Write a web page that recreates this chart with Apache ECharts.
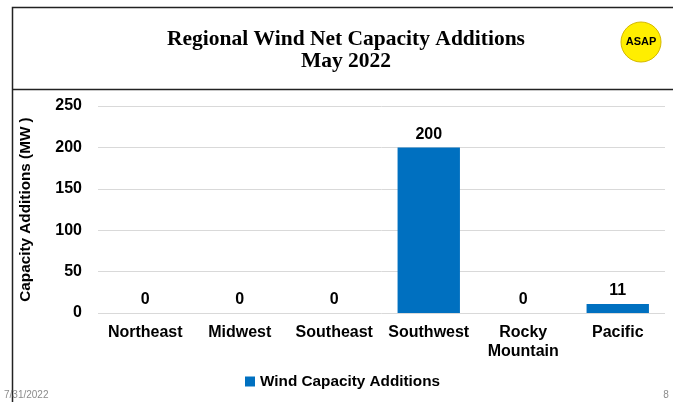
<!DOCTYPE html>
<html>
<head>
<meta charset="utf-8">
<script src="https://cdn.jsdelivr.net/npm/echarts@6/dist/echarts.min.js"></script>
<style>html,body{margin:0;padding:0;background:#fff}#c{width:673px;height:402px}</style>
</head>
<body>
<div id="c"></div>
<script>
const categories = ['Northeast', 'Midwest', 'Southeast', 'Southwest', 'Rocky\nMountain', 'Pacific'];
const windValues = [0, 0, 0, 200, 0, 11];
const yTicks = { min: 0, max: 250, interval: 50 };

const chart = echarts.init(document.getElementById('c'), null, { renderer: 'canvas' });
chart.setOption({
  animation: false,
  backgroundColor: '#fff',
  title: {
    text: 'Regional Wind Net Capacity Additions\nMay 2022',
    left: 341, top: 23, textAlign: 'center',
    textStyle: { fontFamily: 'Liberation Serif', fontWeight: 'bold', fontSize: 21.5, lineHeight: 22, color: '#000' }
  },
  legend: {
    data: ['Wind Capacity Additions'],
    left: 240, top: 369, itemWidth: 10, itemHeight: 10, itemGap: 4,
    icon: 'rect',
    textStyle: { fontFamily: 'Liberation Sans', fontWeight: 'bold', fontSize: 15.3, color: '#000', padding: [0,0,0,0] }
  },
  grid: { left: 98, right: 8, top: 106, bottom: 89, containLabel: false },
  xAxis: {
    type: 'category', data: categories,
    axisLine: { show: false }, axisTick: { show: false },
    axisLabel: { fontFamily: 'Liberation Sans', fontWeight: 'bold', fontSize: 16, color: '#000', margin: 10, lineHeight: 19, interval: 0 }
  },
  yAxis: {
    type: 'value', min: yTicks.min, max: yTicks.max, interval: yTicks.interval,
    name: 'Capacity Additions (MW )', nameLocation: 'middle', nameGap: 65, nameRotate: 90,
    nameTextStyle: { fontFamily: 'Liberation Sans', fontWeight: 'bold', fontSize: 15.3, color: '#000' },
    axisLine: { show: false }, axisTick: { show: false },
    axisLabel: { fontFamily: 'Liberation Sans', fontWeight: 'bold', fontSize: 16, color: '#000', margin: 16 },
    splitLine: { lineStyle: { color: '#d9d9d9', width: 1 } }
  },
  series: [{
    name: 'Wind Capacity Additions', type: 'bar', data: windValues,
    barCategoryGap: '34%',
    itemStyle: { color: '#0070C0' },
    label: { show: true, position: 'top', distance: 5, fontFamily: 'Liberation Sans', fontWeight: 'bold', fontSize: 16, color: '#000' }
  }],
  graphic: [
    { type: 'polyline', shape: { points: [[12.5, 402], [12.5, 7.5], [673, 7.5]] }, style: { stroke: '#222', lineWidth: 1.5, fill: null } },
    { type: 'line', shape: { x1: 12, y1: 89.5, x2: 673, y2: 89.5 }, style: { stroke: '#222', lineWidth: 1.5 } },
    { type: 'circle', shape: { cx: 641, cy: 42, r: 20 }, style: { fill: '#FFEE00', stroke: '#D4B800', lineWidth: 1 } },
    { type: 'text', x: 641, y: 42, style: { text: 'ASAP', fill: '#000', font: 'bold 11px "Liberation Sans"', align: 'center', verticalAlign: 'middle' } },
    { type: 'text', x: 4, y: 395, style: { text: '7/31/2022', fill: '#8c8c8c', font: '10px "Liberation Sans"', align: 'left', verticalAlign: 'middle' } },
    { type: 'text', x: 666, y: 395, style: { text: '8', fill: '#8c8c8c', font: '10px "Liberation Sans"', align: 'center', verticalAlign: 'middle' } }
  ]
});
</script>
</body>
</html>
